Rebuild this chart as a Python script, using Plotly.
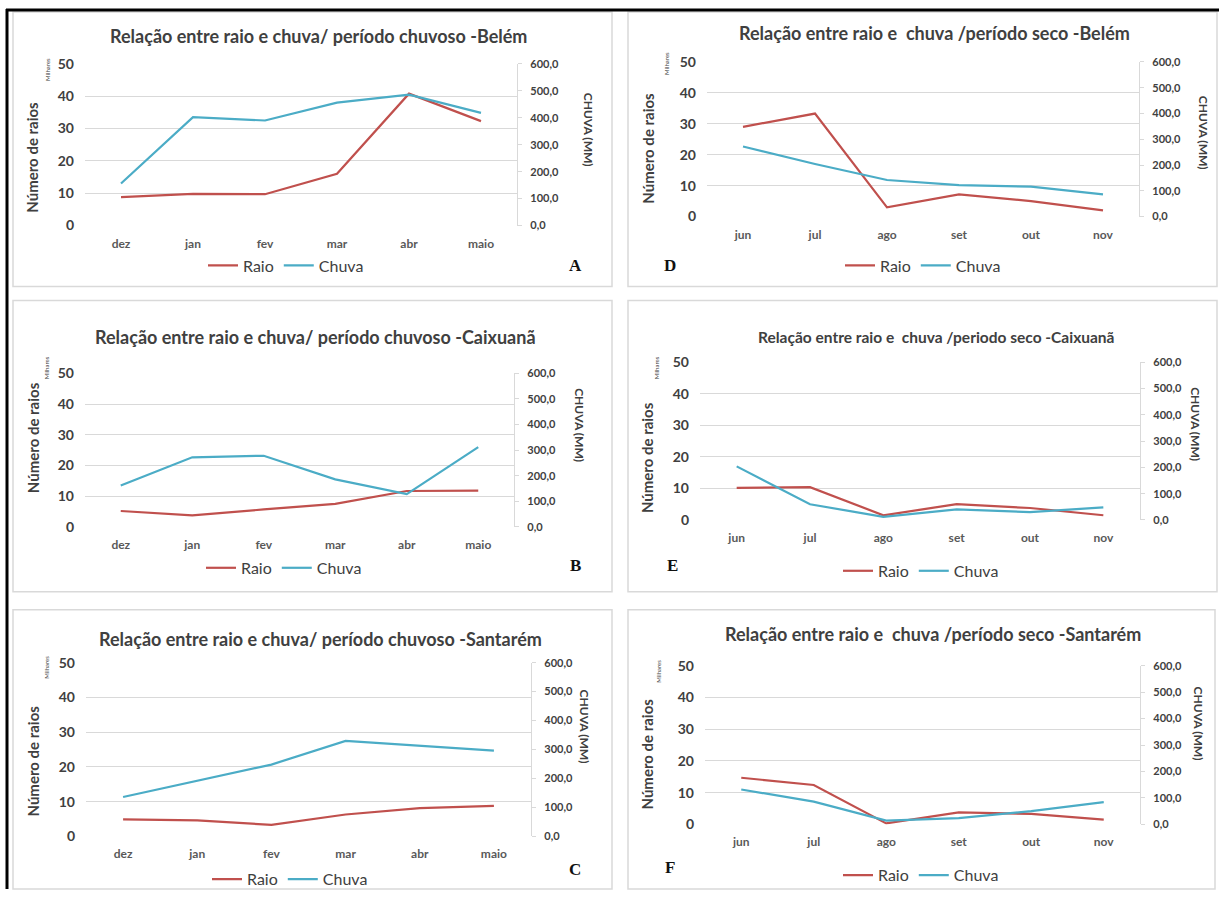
import plotly.graph_objects as go

W, H = 1219, 897

# ---------------- data ----------------
months_wet = ["dez", "jan", "fev", "mar", "abr", "maio"]
months_dry = ["jun", "jul", "ago", "set", "out", "nov"]

# Raio in thousands (Milhares), Chuva in mm
raio_belem_chuvoso = [8.8, 9.8, 9.7, 16.0, 40.8, 32.3]
chuva_belem_chuvoso = [156, 402, 390, 456, 486, 418]

raio_caixuana_chuvoso = [5.2, 3.8, 5.7, 7.5, 11.7, 11.8]
chuva_caixuana_chuvoso = [162, 272, 278, 186, 128, 312]

raio_santarem_chuvoso = [4.9, 4.6, 3.3, 6.3, 8.1, 8.8]
chuva_santarem_chuvoso = [136, 193, 248, 330, 312, 296]

raio_belem_seco = [29.0, 33.3, 3.0, 7.2, 5.0, 2.0]
chuva_belem_seco = [272, 204, 142, 122, 116, 86]

raio_caixuana_seco = [10.2, 10.4, 1.5, 5.0, 3.8, 1.5]
chuva_caixuana_seco = [204, 60, 12, 40, 30, 48]

raio_santarem_seco = [14.7, 12.4, 0.3, 3.8, 3.3, 1.5]
chuva_santarem_seco = [132, 86, 14, 24, 50, 84]

raio_ticks = [0, 10, 20, 30, 40, 50]
chuva_ticks = [0, 100, 200, 300, 400, 500, 600]

titles = [
    "Relação entre raio e chuva/ período chuvoso -Belém",
    "Relação entre raio e chuva/ período chuvoso -Caixuanã",
    "Relação entre raio e chuva/ período chuvoso -Santarém",
    "Relação entre raio e\u00a0 chuva /período seco -Belém",
    "Relação entre raio e\u00a0 chuva /periodo seco -Caixuanã",
    "Relação entre raio e\u00a0 chuva /período seco -Santarém",
]
letters = ["A", "B", "C", "D", "E", "F"]
series = [
    (months_wet, raio_belem_chuvoso, chuva_belem_chuvoso),
    (months_wet, raio_caixuana_chuvoso, chuva_caixuana_chuvoso),
    (months_wet, raio_santarem_chuvoso, chuva_santarem_chuvoso),
    (months_dry, raio_belem_seco, chuva_belem_seco),
    (months_dry, raio_caixuana_seco, chuva_caixuana_seco),
    (months_dry, raio_santarem_seco, chuva_santarem_seco),
]

# ---------------- layout geometry (pixels) ----------------
frames = [(13, 11, 612, 286), (13, 300, 612, 592), (13, 610, 612, 895),
          (628, 11, 1217, 286), (628, 300, 1217, 592), (628, 610, 1215, 893)]
plots = [(85, 63, 517, 225), (85, 373, 514, 527), (86, 663, 531, 837),
         (707, 61, 1139, 216), (700, 362, 1140, 520), (705, 666, 1140, 825)]
title_pos = [(318, 35), (315, 337), (320, 639), (934, 32), (936, 337), (933, 634)]
title_size = [18, 18, 18, 18, 15.5, 18]
legend_pos = [(286, 265), (284, 568), (290, 880), (923, 265), (921, 571), (921, 876)]
letter_pos = [(575, 265), (575, 566), (575, 870), (670, 265), (672, 566), (670, 868)]
ynum_pos = [(32, 157), (33, 438), (33, 762), (648, 148), (647, 458), (647, 755)]
chuva_pos = [(588, 129), (580, 425), (584, 727), (1203, 132), (1196, 424), (1198, 724)]
mil_pos = [(48, 69), (46, 368), (47, 668), (667, 63), (656, 368), (659, 672)]

RED = "#C0504D"
CYAN = "#4BACC6"
GRID = "#D9D9D9"
TXT = "#404040"
FONT = "Lato"

# vertical correction (screen capture shows page offset/compressed vertically)
Y_OFF, Y_SCALE = 8.0, 0.983


def fx(x):
    return x / W


def fy(y):
    yy = (y - Y_OFF) / Y_SCALE
    return min(1.0, max(0.0, 1 - yy / H))


fig = go.Figure()
layout = dict(
    width=W, height=H, margin=dict(l=0, r=0, t=0, b=0),
    paper_bgcolor="white", plot_bgcolor="white",
    separators=",.", font=dict(family=FONT, color=TXT),
    showlegend=True,
)
shapes = []
annotations = []

for i in range(6):
    n = i + 1
    xname = "x" if n == 1 else f"x{n}"
    yl = 2 * n - 1
    yr = 2 * n
    ylname = "y" if yl == 1 else f"y{yl}"
    yrname = f"y{yr}"
    lgname = "legend" if n == 1 else f"legend{n}"
    months, raio, chuva = series[i]
    x0, y0, x1, y1 = plots[i]

    fig.add_trace(go.Scatter(x=months, y=raio, mode="lines", name="Raio",
                             line=dict(color=RED, width=2.2),
                             xaxis=xname, yaxis=ylname, legend=lgname))
    fig.add_trace(go.Scatter(x=months, y=chuva, mode="lines", name="Chuva",
                             line=dict(color=CYAN, width=2.2),
                             xaxis=xname, yaxis=yrname, legend=lgname))

    layout["xaxis" if n == 1 else f"xaxis{n}"] = dict(
        domain=[fx(x0), fx(x1)], anchor=ylname, type="category",
        range=[-0.5, 5.5], showgrid=False, zeroline=False, showline=False,
        ticks="", ticklabelstandoff=9, fixedrange=True,
        tickfont=dict(family=FONT, size=12, color="#595959", weight="bold"),
    )
    layout["yaxis" if yl == 1 else f"yaxis{yl}"] = dict(
        domain=[fy(y1), fy(y0)], anchor=xname, range=[0, 50],
        tickvals=raio_ticks, showgrid=True, gridcolor=GRID, gridwidth=1.3,
        zeroline=False, showline=False, ticks="", ticklabelstandoff=10,
        tickfont=dict(family=FONT, size=14, color=TXT, weight="bold"),
    )
    layout[f"yaxis{yr}"] = dict(
        overlaying=ylname, anchor=xname, side="right", range=[0, 600],
        tickvals=chuva_ticks, tickformat=".1f", showgrid=False,
        zeroline=False, showline=True, linecolor=GRID, linewidth=1.3,
        ticks="outside", ticklen=4, tickcolor=GRID, ticklabelstandoff=6,
        tickfont=dict(family=FONT, size=11, color=TXT, weight="bold"),
    )
    lx, ly = legend_pos[i]
    layout[lgname] = dict(
        x=fx(lx), y=fy(ly), xanchor="center", yanchor="middle",
        orientation="h", bgcolor="rgba(0,0,0,0)", itemwidth=30,
        font=dict(family=FONT, size=16, color=TXT),
        tracegroupgap=0,
    )

    fx0, fy0, fx1, fy1 = frames[i]
    shapes.append(dict(type="rect", xref="paper", yref="paper",
                       x0=fx(fx0), x1=fx(fx1), y0=fy(fy1), y1=fy(fy0),
                       line=dict(color=GRID, width=1.5), fillcolor="rgba(0,0,0,0)",
                       layer="below"))

    tx, ty = title_pos[i]
    annotations.append(dict(text=titles[i], x=fx(tx), y=fy(ty), xref="paper", yref="paper",
                            showarrow=False, xanchor="center", yanchor="middle",
                            font=dict(family=FONT, size=title_size[i], color=TXT, weight="bold")))
    lx, ly = letter_pos[i]
    annotations.append(dict(text=letters[i], x=fx(lx), y=fy(ly), xref="paper", yref="paper",
                            showarrow=False, xanchor="center", yanchor="middle",
                            font=dict(family="Liberation Serif", size=17, color="#111111",
                                      weight="bold")))
    nx, ny = ynum_pos[i]
    annotations.append(dict(text="Número de raios", x=fx(nx), y=fy(ny), xref="paper",
                            yref="paper", showarrow=False, textangle=-90,
                            xanchor="center", yanchor="middle",
                            font=dict(family=FONT, size=15, color=TXT, weight="bold")))
    cx, cy = chuva_pos[i]
    annotations.append(dict(text="CHUVA (MM)", x=fx(cx), y=fy(cy), xref="paper",
                            yref="paper", showarrow=False, textangle=90,
                            xanchor="center", yanchor="middle",
                            font=dict(family=FONT, size=12, color=TXT, weight="bold")))
    mx, my = mil_pos[i]
    annotations.append(dict(text="Milhares", x=fx(mx), y=fy(my), xref="paper",
                            yref="paper", showarrow=False, textangle=-90,
                            xanchor="center", yanchor="middle",
                            font=dict(family=FONT, size=6, color=TXT)))

# outer black border (top and left)
shapes.append(dict(type="line", xref="paper", yref="paper", x0=fx(6), x1=1,
                   y0=fy(9), y1=fy(9), line=dict(color="black", width=3)))
shapes.append(dict(type="line", xref="paper", yref="paper", x0=fx(7), x1=fx(7),
                   y0=0, y1=fy(8), line=dict(color="black", width=3)))

layout["shapes"] = shapes
layout["annotations"] = annotations
fig.update_layout(**layout)

fig.write_html(
    "out.html",
    config={"displayModeBar": False},
    post_script=(
        "document.documentElement.style.margin='0';"
        "document.documentElement.style.overflow='hidden';"
        "document.body.style.margin='0';document.body.style.padding='0';"
        "document.body.style.overflow='hidden';"
        "var d=document.getElementById('{plot_id}');"
        "d.style.position='fixed';d.style.top='0px';d.style.left='0px';"
    ),
)
